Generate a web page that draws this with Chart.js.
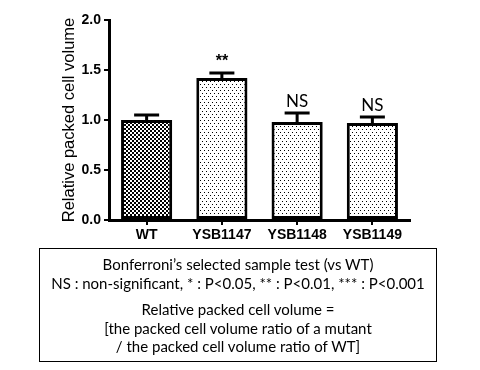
<!DOCTYPE html>
<html>
<head>
<meta charset="utf-8">
<script src="https://cdn.jsdelivr.net/npm/chart.js@4"></script>
<style>
	body { margin: 0; background: #fff; }
	#wrap { position: relative; width: 480px; height: 370px; }
	#note {
		position: absolute; left: 39px; top: 248px; width: 398px; height: 114px;
		border: 1px solid #000; box-sizing: border-box;
		font-family: Lato, 'Open Sans', sans-serif; font-size: 15px; color: #000;
		text-align: center; line-height: 18.5px; padding-top: 6px;
		white-space: nowrap;
	}
	#note p { margin: 0; }
	#note .gap { margin-top: 8px; }
</style>
</head>
<body>
<div id="wrap">
	<canvas id="pcv-chart" width="480" height="370"></canvas>
	<div id="note">
		<p>Bonferroni’s selected sample test (vs WT)</p>
		<p>NS : non-significant, * : P&lt;0.05, ** : P&lt;0.01, *** : P&lt;0.001</p>
		<p class="gap">Relative packed cell volume =</p>
		<p>[the packed cell volume ratio of a mutant</p>
		<p>/ the packed cell volume ratio of WT]</p>
	</div>
</div>
<script>
const strains = ['WT', 'YSB1147', 'YSB1148', 'YSB1149'];
const pcvMean = [1.0, 1.42, 0.98, 0.97];
const pcvErr = [0.05, 0.05, 0.09, 0.06];
const signif = ['', '**', 'NS', 'NS'];
const yTicks = [0, 0.5, 1.0, 1.5, 2.0];

function makePattern(w, h, draw) {
	const c = document.createElement('canvas');
	c.width = w;
	c.height = h;
	const g = c.getContext('2d');
	g.fillStyle = '#fff';
	g.fillRect(0, 0, w, h);
	g.fillStyle = '#000';
	draw(g);
	return g.createPattern(c, 'repeat');
}

const checker = makePattern(4, 4, (g) => {
	g.fillRect(0, 0, 2, 2);
	g.fillRect(2, 2, 2, 2);
});
const dots = makePattern(4, 6, (g) => {
	g.fillRect(0, 0, 1, 1);
	g.fillRect(2, 3, 1, 1);
});

const errorBars = {
	id: 'errorBars',
	afterDatasetsDraw(chart) {
		const ctx = chart.ctx;
		const y = chart.scales.y;
		const meta = chart.getDatasetMeta(0);
		ctx.save();
		ctx.strokeStyle = '#000';
		ctx.lineWidth = 3;
		meta.data.forEach((bar, i) => {
			const top = y.getPixelForValue(pcvMean[i]);
			const cap = y.getPixelForValue(pcvMean[i] + pcvErr[i]);
			ctx.beginPath();
			ctx.moveTo(bar.x, top);
			ctx.lineTo(bar.x, cap);
			ctx.moveTo(bar.x - 12.5, cap);
			ctx.lineTo(bar.x + 12.5, cap);
			ctx.stroke();
			if (signif[i]) {
				ctx.fillStyle = '#000';
				ctx.textAlign = 'center';
				ctx.textBaseline = 'bottom';
				ctx.font = signif[i] === 'NS' ? '17px Lato, sans-serif' : 'bold 16px Arial, sans-serif';
				ctx.fillText(signif[i], bar.x, cap - 3);
			}
		});
		ctx.restore();
	},
};

document.addEventListener('DOMContentLoaded', () => {
	const ctx = document.getElementById('pcv-chart');

	new Chart(ctx, {
		type: 'bar',
		data: {
			labels: strains,
			datasets: [
				{
					data: pcvMean,
					backgroundColor: [checker, dots, dots, dots],
					borderColor: '#000',
					borderWidth: 3,
					borderSkipped: false,
					barPercentage: 0.68,
					categoryPercentage: 1,
				},
			],
		},
		options: {
			responsive: false,
			animation: false,
			layout: {
				padding: { left: 58, top: 20, right: 70, bottom: 120 },
			},
			plugins: {
				legend: { display: false },
				tooltip: { enabled: false },
			},
			scales: {
				y: {
					min: 0,
					max: 2,
					afterFit: (s) => { s.width = 51; },
					afterBuildTicks: (s) => { s.ticks = yTicks.map((v) => ({ value: v })); },
					title: {
						display: true,
						text: 'Relative packed cell volume',
						color: '#000',
						font: { family: 'Arial', size: 16.5 },
						padding: 2,
					},
					ticks: {
						color: '#000',
						font: { family: 'Arial', size: 14, weight: 'bold' },
						padding: 3,
						callback: (v) => v.toFixed(1),
					},
					grid: {
						drawOnChartArea: false,
						color: '#000',
						lineWidth: 2,
						tickLength: 5,
					},
					border: { color: '#000', width: 3 },
				},
				x: {
					afterFit: (s) => { s.height = 30; },
					ticks: {
						color: '#000',
						font: { family: 'Arial', size: 14, weight: 'bold' },
						padding: 2,
					},
					grid: {
						drawOnChartArea: false,
						offset: false,
						color: '#000',
						lineWidth: 2,
						tickLength: 5,
					},
					border: { color: '#000', width: 3 },
				},
			},
		},
		plugins: [errorBars],
	});
});
</script>
</body>
</html>
